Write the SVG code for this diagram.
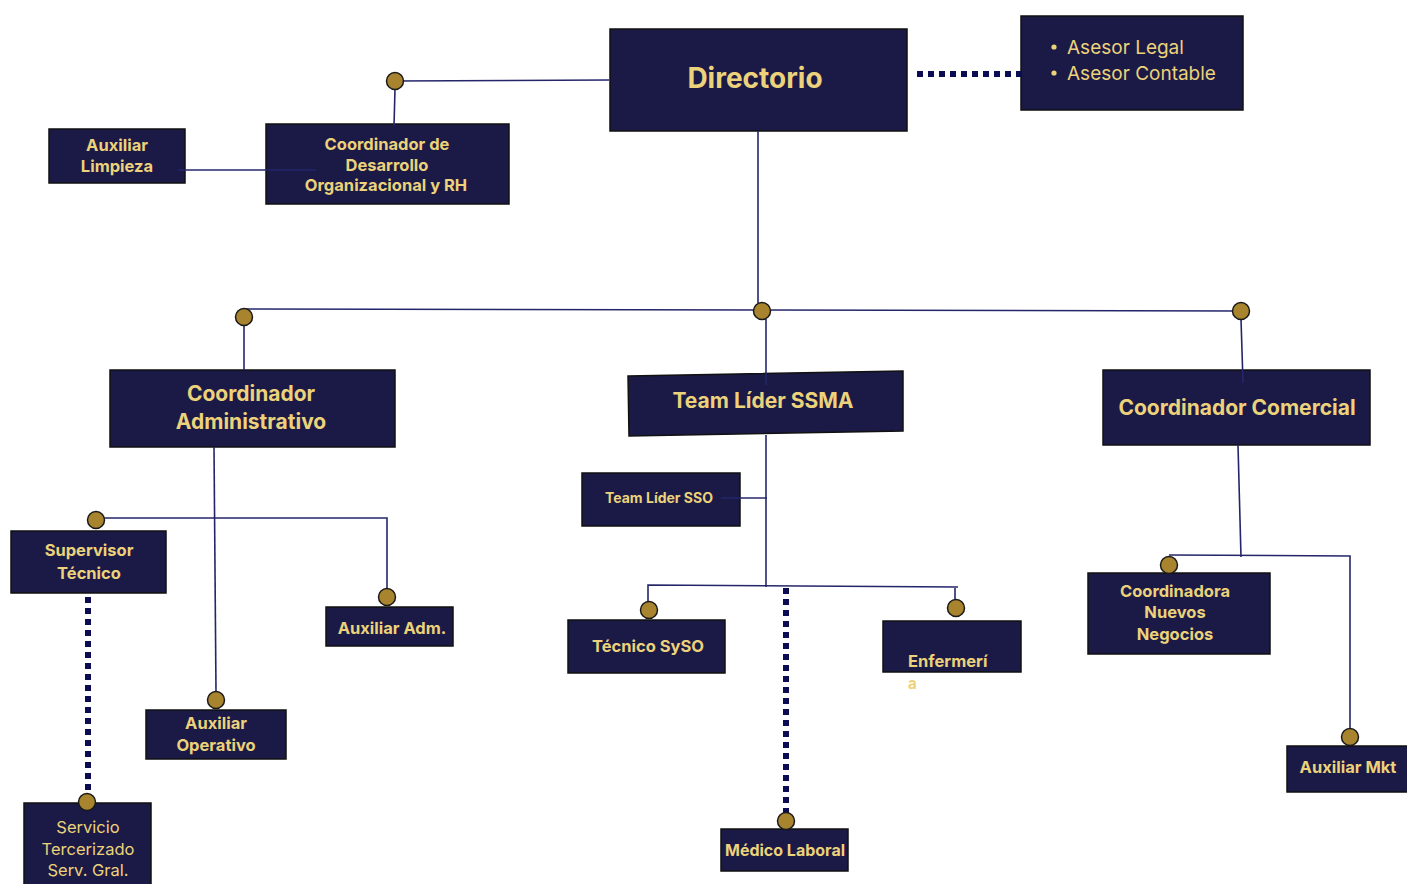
<svg xmlns="http://www.w3.org/2000/svg" width="1407" height="884" viewBox="0 0 1407 884">
<style>
.box{fill:#1b1a47;stroke:#111;stroke-width:1.5}
.t{font-family:Inter,"Liberation Sans",sans-serif;fill:#ecd27a;text-anchor:middle;font-weight:700}
.n{font-weight:400}
.ln{stroke:#25266a;stroke-width:1.6;fill:none}
.dt{stroke:#0c0c52;stroke-width:6;stroke-dasharray:6 5;fill:none}
.dot{fill:#a8842f;stroke:#1a1a1a;stroke-width:1.5}
</style>
<rect width="1407" height="884" fill="#fff"/>
<g id="directorio"><rect class="box" x="610" y="29" width="297" height="102"/><text class="t" x="755" y="88" font-size="28" font-weight="600">Directorio</text></g>
<g id="asesores"><rect class="box" x="1021" y="16" width="222" height="94"/>
<circle cx="1054" cy="47" r="2.6" fill="#ecd27a"/><circle cx="1054" cy="73" r="2.6" fill="#ecd27a"/>
<text class="t n" x="1067" y="54" font-size="19" style="text-anchor:start">Asesor Legal</text>
<text class="t n" x="1067" y="80" font-size="19" style="text-anchor:start">Asesor Contable</text></g>
<g id="coord-do"><rect class="box" x="266" y="124" width="243" height="80"/>
<text class="t" x="387" y="150" font-size="16.5">Coordinador de</text>
<text class="t" x="387" y="171" font-size="16.5">Desarrollo</text>
<text class="t" x="386" y="191" font-size="16.5">Organizacional y RH</text></g>
<g id="aux-limpieza"><rect class="box" x="49" y="129" width="136" height="54"/>
<text class="t" x="117" y="151" font-size="16.5">Auxiliar</text>
<text class="t" x="117" y="172" font-size="16.5">Limpieza</text></g>
<g id="coord-adm"><rect class="box" x="110" y="370" width="285" height="77"/>
<text class="t" x="251" y="401" font-size="21">Coordinador</text>
<text class="t" x="251" y="429" font-size="21">Administrativo</text></g>
<g id="ssma"><path class="box" d="M628 376 L903 371 L903 431 L629 436 Z"/>
<text class="t" x="763" y="408" font-size="21">Team Líder SSMA</text></g>
<g id="coord-com"><rect class="box" x="1103" y="370" width="267" height="75"/>
<text class="t" x="1237" y="415" font-size="21">Coordinador Comercial</text></g>
<g id="supervisor"><rect class="box" x="11" y="531" width="155" height="62"/>
<text class="t" x="89" y="556" font-size="16.5">Supervisor</text>
<text class="t" x="89" y="579" font-size="16.5">Técnico</text></g>
<g id="aux-adm"><rect class="box" x="326" y="607" width="127" height="39"/>
<text class="t" x="392" y="634" font-size="16.5">Auxiliar Adm.</text></g>
<g id="aux-op"><rect class="box" x="146" y="710" width="140" height="49"/>
<text class="t" x="216" y="729" font-size="16.5">Auxiliar</text>
<text class="t" x="216" y="751" font-size="16.5">Operativo</text></g>
<g id="servicio"><rect class="box" x="24" y="803" width="127" height="85"/>
<text class="t n" x="88" y="833" font-size="16.5">Servicio</text>
<text class="t n" x="88" y="855" font-size="16.5">Tercerizado</text>
<text class="t n" x="88" y="876" font-size="16.5">Serv. Gral.</text></g>
<g id="sso"><rect class="box" x="582" y="473" width="158" height="53"/>
<text class="t" x="659" y="503" font-size="14">Team Líder SSO</text></g>
<g id="tecnico"><rect class="box" x="568" y="620" width="157" height="53"/>
<text class="t" x="648" y="652" font-size="16.5">Técnico SySO</text></g>
<g id="enfermeria"><rect class="box" x="883" y="621" width="138" height="51"/>
<text class="t" x="908" y="667" font-size="16.5" style="text-anchor:start">Enfermerí</text>
<text class="t" x="908" y="689" font-size="15" style="text-anchor:start">a</text></g>
<g id="medico"><rect class="box" x="721" y="829" width="127" height="42"/>
<text class="t" x="785" y="856" font-size="16">Médico Laboral</text></g>
<g id="nuevos"><rect class="box" x="1088" y="573" width="182" height="81"/>
<text class="t" x="1175" y="597" font-size="16.5">Coordinadora</text>
<text class="t" x="1175" y="618" font-size="16.5">Nuevos</text>
<text class="t" x="1175" y="640" font-size="16.5">Negocios</text></g>
<g id="aux-mkt"><rect class="box" x="1287" y="746" width="125" height="46"/>
<text class="t" x="1348" y="773" font-size="16.5">Auxiliar Mkt</text></g>
<g id="connectors">
<path class="ln" d="M395 81 L609 80"/>
<path class="ln" d="M395 89 L394 126"/>
<path class="ln" d="M178 170 L316 170"/>
<path class="ln" d="M758 131 L758 303"/>
<path class="ln" d="M244 309 L1240 311"/>
<path class="ln" d="M244 325 L244 370"/>
<path class="ln" d="M766 319 L766 385"/>
<path class="ln" d="M1241 319 L1243 383"/>
<path class="ln" d="M214 447 L216 692"/>
<path class="ln" d="M96 518 L387 518 L387 590"/>
<path class="ln" d="M766 435 L766 587"/>
<path class="ln" d="M721 498 L767 498"/>
<path class="ln" d="M648 602 L648 585 L958 587"/>
<path class="ln" d="M955 588 L955 600"/>
<path class="ln" d="M1238 445 L1241 557"/>
<path class="ln" d="M1169 555 L1350 556 L1350 730"/>
<path class="dt" d="M917 74 L1021 74"/>
<path class="dt" d="M88 597 L88 792"/>
<path class="dt" d="M786 588 L786 815"/>
<circle class="dot" cx="395" cy="81" r="8.5"/>
<circle class="dot" cx="762" cy="311" r="8.5"/>
<circle class="dot" cx="244" cy="317" r="8.5"/>
<circle class="dot" cx="1241" cy="311" r="8.5"/>
<circle class="dot" cx="96" cy="520" r="8.5"/>
<circle class="dot" cx="387" cy="597" r="8.5"/>
<circle class="dot" cx="216" cy="700" r="8.5"/>
<circle class="dot" cx="87" cy="802" r="8.5"/>
<circle class="dot" cx="649" cy="610" r="8.5"/>
<circle class="dot" cx="956" cy="608" r="8.5"/>
<circle class="dot" cx="786" cy="821" r="8.5"/>
<circle class="dot" cx="1169" cy="565" r="8.5"/>
<circle class="dot" cx="1350" cy="737" r="8.5"/>
</g>
</svg>
